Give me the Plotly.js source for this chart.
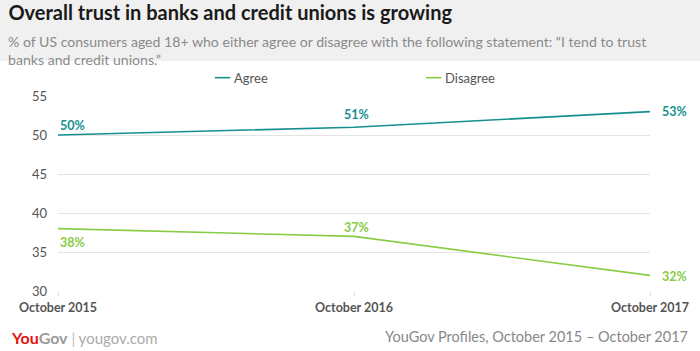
<!DOCTYPE html>
<html>
<head>
<meta charset="utf-8">
<script src="https://cdn.plot.ly/plotly-3.0.1.min.js"></script>
<style>html,body{margin:0;padding:0;background:#fff}#chart{width:700px;height:351px}</style>
</head>
<body>
<div id="chart"></div>
<script>
const categories = ["October 2015", "October 2016", "October 2017"];
const seriesNames = ["Agree", "Disagree"];
const agree = [50, 51, 53];
const disagree = [38, 37, 32];
const yTicks = [30, 35, 40, 45, 50, 55];

const teal = "#178f91";
const green = "#88cc44";
const F = "Lato, 'Open Sans', sans-serif";

const traces = [
  {x: categories, y: agree, name: seriesNames[0], type: "scatter", mode: "lines",
   line: {color: teal, width: 1.6}, hoverinfo: "skip"},
  {x: categories, y: disagree, name: seriesNames[1], type: "scatter", mode: "lines",
   line: {color: green, width: 1.6}, hoverinfo: "skip"}
];

const ann = [];
// data labels
const agreeOff = [[0, 10, "left"], [2, 13, "center"], [10, 0, "left"]];
const disOff = [[0, -14, "left"], [2, 9, "center"], [10, -1, "left"]];
agree.forEach((v, i) => ann.push({x: categories[i], y: v, xref: "x", yref: "y", text: "<b>" + v + "%</b>",
  showarrow: false, xanchor: agreeOff[i][2], xshift: agreeOff[i][0], yshift: agreeOff[i][1],
  font: {family: F, size: 12.5, color: teal}}));
disagree.forEach((v, i) => ann.push({x: categories[i], y: v, xref: "x", yref: "y", text: "<b>" + v + "%</b>",
  showarrow: false, xanchor: disOff[i][2], xshift: disOff[i][0], yshift: disOff[i][1],
  font: {family: F, size: 12.5, color: green}}));

// legend
const legX = [0.265, 0.6215];
const legCol = [teal, green];
const shapes = [
  {type: "rect", xref: "paper", yref: "paper", x0: -0.1, x1: 1.1, y0: 1.179, y1: 1.5, fillcolor: "#f0f0f0", line: {width: 0}, layer: "below"}
];
seriesNames.forEach((n, i) => {
  shapes.push({type: "line", xref: "paper", yref: "paper", x0: legX[i], x1: legX[i] + 0.026, y0: 1.094, y1: 1.094,
    line: {color: legCol[i], width: 1.6}});
  ann.push({xref: "paper", yref: "paper", x: legX[i] + 0.029, y: 1.094, text: n, showarrow: false,
    xanchor: "left", yanchor: "middle", font: {family: F, size: 13, color: "#555"}});
});

// subtitle
ann.push({xref: "paper", yref: "paper", x: -0.087, y: 1.335, xanchor: "left", yanchor: "top", align: "left",
  text: "% of US consumers aged 18+ who either agree or disagree with the following statement: “I tend to trust<br>banks and credit unions.”",
  showarrow: false, font: {family: F, size: 14.1, color: "#8a8a8a"}});
// footer
ann.push({xref: "paper", yref: "paper", x: -0.083, y: -0.24, xanchor: "left", yanchor: "middle",
  text: "<b><span style='color:#e3120b;font-size:16px'>You</span><span style='color:#9a9a9a;font-size:16px'>Gov</span></b><span style='color:#bbb'> | </span>yougov.com",
  showarrow: false, font: {family: F, size: 15, color: "#aaa"}});
ann.push({xref: "paper", yref: "paper", x: 1.0676, y: -0.235, xanchor: "right", yanchor: "middle",
  text: "YouGov Profiles, October 2015 – October 2017",
  showarrow: false, font: {family: F, size: 14.5, color: "#888"}});

const layout = {
  width: 700, height: 351,
  margin: {l: 58, r: 50, t: 96, b: 60},
  paper_bgcolor: "#fff", plot_bgcolor: "#fff",
  showlegend: false,
  title: {text: "<b>Overall trust in banks and credit unions is growing</b>", x: 0.012, xanchor: "left",
    y: 0.962, yanchor: "middle", font: {family: F, size: 20, color: "#1a1a1a"}},
  xaxis: {type: "category", range: [0, 2], showgrid: false, zeroline: false, showline: false,
    ticks: "outside", ticklen: 5, tickcolor: "#ddd",
    tickfont: {family: F, size: 12.5, color: "#555", weight: "bold"}, fixedrange: true},
  yaxis: {range: [30, 55], tickvals: yTicks, ticktext: yTicks.map(String), gridcolor: "#e4e4e4", gridwidth: 1,
    zeroline: false, showline: false, ticks: "", ticklabelstandoff: 10,
    tickfont: {family: F, size: 13, color: "#555"}, fixedrange: true},
  annotations: ann,
  shapes: shapes
};
Plotly.newPlot("chart", traces, layout, {staticPlot: true});
</script>
</body>
</html>
